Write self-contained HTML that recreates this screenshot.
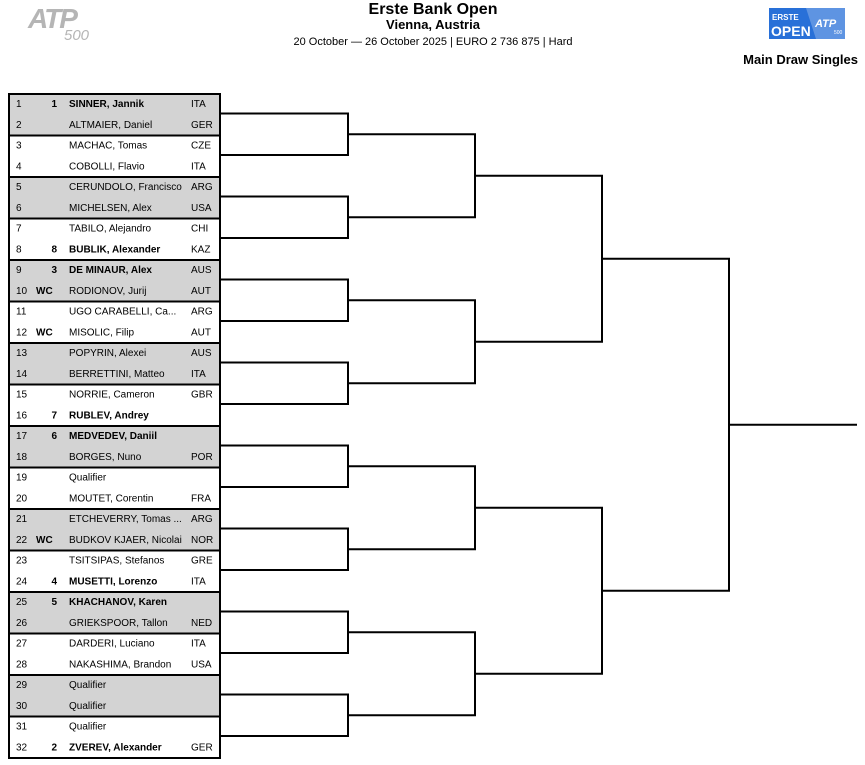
<!DOCTYPE html>
<html><head><meta charset="utf-8"><style>
html,body{margin:0;padding:0;background:#fff;}
body{width:865px;height:760px;overflow:hidden;font-family:"Liberation Sans",sans-serif;}
</style></head><body>
<svg width="865" height="760" xmlns="http://www.w3.org/2000/svg" font-family="Liberation Sans, sans-serif">
<text x="28" y="28" font-size="28" font-weight="bold" font-style="italic" fill="#b5b5b5" letter-spacing="-2">ATP</text>
<text x="64" y="40" font-size="15" font-style="italic" fill="#b5b5b5">500</text>
<text x="433" y="14" font-size="16" font-weight="bold" text-anchor="middle">Erste Bank Open</text>
<text x="433" y="29" font-size="13" font-weight="bold" text-anchor="middle">Vienna, Austria</text>
<text x="433" y="45" font-size="11" text-anchor="middle">20 October — 26 October 2025 | EURO 2 736 875 | Hard</text>
<rect x="769" y="8" width="76" height="31" fill="#2870d8"/>
<polygon points="806,8 845,8 845,39 816,39" fill="#fff" opacity="0.25"/>
<text x="772" y="20" font-size="8" font-weight="bold" fill="#fff">ERSTE</text>
<text x="771" y="36" font-size="14" font-weight="bold" fill="#fff">OPEN</text>
<text x="815" y="27" font-size="11" font-weight="bold" font-style="italic" fill="#fff">ATP</text>
<text x="834" y="34" font-size="5" fill="#fff">500</text>
<text x="858" y="64" font-size="13" font-weight="bold" text-anchor="end">Main Draw Singles</text>
<g id="table" font-size="10">
<g fill="#d3d3d3">
<rect x="9" y="94" width="211" height="41.5"/>
<rect x="9" y="177" width="211" height="41.5"/>
<rect x="9" y="260" width="211" height="41.5"/>
<rect x="9" y="343" width="211" height="41.5"/>
<rect x="9" y="426" width="211" height="41.5"/>
<rect x="9" y="509" width="211" height="41.5"/>
<rect x="9" y="592" width="211" height="41.5"/>
<rect x="9" y="675" width="211" height="41.5"/>
</g>
<g stroke="#000" stroke-width="2">
<line x1="9" y1="135.5" x2="220" y2="135.5"/><line x1="9" y1="177" x2="220" y2="177"/>
<line x1="9" y1="218.5" x2="220" y2="218.5"/><line x1="9" y1="260" x2="220" y2="260"/>
<line x1="9" y1="301.5" x2="220" y2="301.5"/><line x1="9" y1="343" x2="220" y2="343"/>
<line x1="9" y1="384.5" x2="220" y2="384.5"/><line x1="9" y1="426" x2="220" y2="426"/>
<line x1="9" y1="467.5" x2="220" y2="467.5"/><line x1="9" y1="509" x2="220" y2="509"/>
<line x1="9" y1="550.5" x2="220" y2="550.5"/><line x1="9" y1="592" x2="220" y2="592"/>
<line x1="9" y1="633.5" x2="220" y2="633.5"/><line x1="9" y1="675" x2="220" y2="675"/>
<line x1="9" y1="716.5" x2="220" y2="716.5"/>
<rect x="9" y="94" width="211" height="664" fill="none"/>
</g>
</g>
<g font-size="10" fill="#000" id="rows"></g>
<g stroke="#000" stroke-width="2" fill="none" id="br"></g>
</svg>
<script>
var P=[["1","","1","SINNER, Jannik","ITA"],["2","","","ALTMAIER, Daniel","GER"],["3","","","MACHAC, Tomas","CZE"],["4","","","COBOLLI, Flavio","ITA"],["5","","","CERUNDOLO, Francisco","ARG"],["6","","","MICHELSEN, Alex","USA"],["7","","","TABILO, Alejandro","CHI"],["8","","8","BUBLIK, Alexander","KAZ"],["9","","3","DE MINAUR, Alex","AUS"],["10","WC","","RODIONOV, Jurij","AUT"],["11","","","UGO CARABELLI, Ca...","ARG"],["12","WC","","MISOLIC, Filip","AUT"],["13","","","POPYRIN, Alexei","AUS"],["14","","","BERRETTINI, Matteo","ITA"],["15","","","NORRIE, Cameron","GBR"],["16","","7","RUBLEV, Andrey",""],["17","","6","MEDVEDEV, Daniil",""],["18","","","BORGES, Nuno","POR"],["19","","","Qualifier",""],["20","","","MOUTET, Corentin","FRA"],["21","","","ETCHEVERRY, Tomas ...","ARG"],["22","WC","","BUDKOV KJAER, Nicolai","NOR"],["23","","","TSITSIPAS, Stefanos","GRE"],["24","","4","MUSETTI, Lorenzo","ITA"],["25","","5","KHACHANOV, Karen",""],["26","","","GRIEKSPOOR, Tallon","NED"],["27","","","DARDERI, Luciano","ITA"],["28","","","NAKASHIMA, Brandon","USA"],["29","","","Qualifier",""],["30","","","Qualifier",""],["31","","","Qualifier",""],["32","","2","ZVEREV, Alexander","GER"]];
var NS="http://www.w3.org/2000/svg",g=document.getElementById("rows");
function t(x,y,s,b,a){var e=document.createElementNS(NS,"text");e.setAttribute("x",x);e.setAttribute("y",y);if(b)e.setAttribute("font-weight","bold");if(a)e.setAttribute("text-anchor",a);e.textContent=s;g.appendChild(e);}
P.forEach(function(r,i){var y=94+20.75*i+13;var b=r[2]!="";t(16,y,r[0]);if(r[1])t(36,y,r[1],true);if(r[2])t(57,y,r[2],true,"end");t(69,y,r[3],b);if(r[4])t(191,y,r[4]);});
var br=document.getElementById("br");
function pl(pts){var e=document.createElementNS(NS,"polyline");e.setAttribute("points",pts);br.appendChild(e);}
var ys=[];for(var k=0;k<16;k++)ys.push(113.5+41.5*k);
var xs=[220,348,475,602,729];
for(var r=0;r<4;r++){var n=[];for(var k=0;k<ys.length;k+=2){var a=ys[k],b=ys[k+1];pl(xs[r]+","+a+" "+xs[r+1]+","+a+" "+xs[r+1]+","+b+" "+xs[r]+","+b);n.push((a+b)/2);}ys=n;}
pl("729,"+ys[0]+" 857,"+ys[0]);
</script>
</body></html>
